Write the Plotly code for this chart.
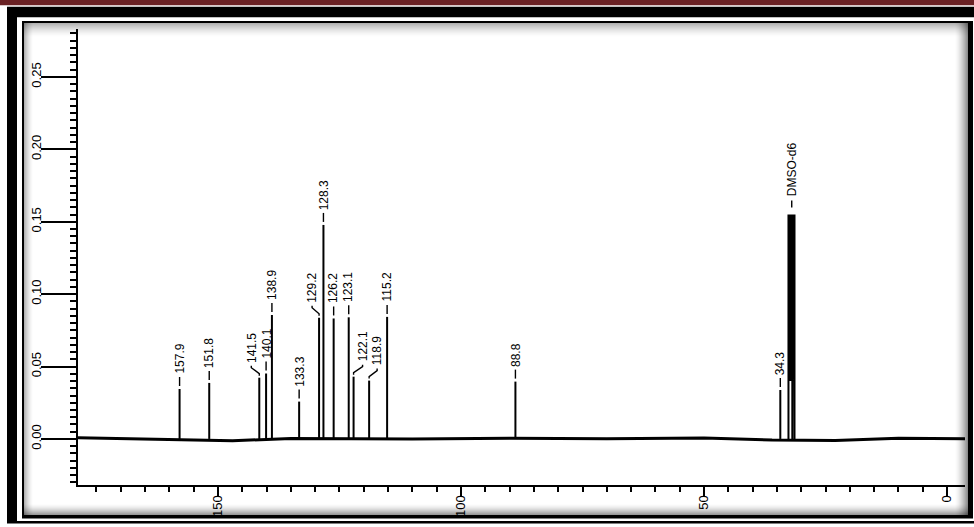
import plotly.graph_objects as go

# ---- 13C NMR peak list -------------------------------------------------
shifts = [157.9, 151.8, 141.5, 140.1, 138.9, 133.3, 129.2, 128.3,
          126.2, 123.1, 122.1, 118.9, 115.2, 88.8, 34.3]
heights = [0.0345, 0.0387, 0.0423, 0.0452, 0.0856, 0.0258, 0.0837, 0.1478,
           0.0832, 0.0840, 0.0430, 0.0403, 0.0843, 0.0396, 0.0338]
peak_labels = ["157.9", "151.8", "141.5", "140.1", "138.9", "133.3", "129.2", "128.3",
               "126.2", "123.1", "122.1", "118.9", "115.2", "88.8", "34.3"]

# solvent multiplet (DMSO-d6), drawn as a continuous trace
dmso_ppm = [32.62, 32.62, 32.50, 32.36, 32.22, 32.08, 31.95, 31.83, 31.83,
            31.70, 31.58, 31.46, 31.38, 31.38]
dmso_int = [0.0, 0.155, 0.040, 0.155, 0.040, 0.155, 0.050, 0.155, 0.0,
            0.155, 0.050, 0.155, 0.155, 0.0]
solvent_label = "DMSO-d6"
solvent_label_ppm = 31.95
solvent_label_int = 0.155

# slow baseline drift
base_ppm = [178.8, 165, 147, 135, 110, 90, 70, 50, 36, 23, 10, -3.7]
base_int = [0.0009, 0.0002, -0.0012, 0.0003, 0.0, 0.0005, 0.0001, 0.0006,
            -0.0008, -0.0010, 0.0004, 0.0001]

x_tick_vals = [150, 100, 50, 0]
x_tick_text = ["150", "100", "50", "0"]
y_tick_vals = [0.00, 0.05, 0.10, 0.15, 0.20, 0.25]
y_tick_text = ["0.00", "0.05", "0.10", "0.15", "0.20", "0.25"]

# ---- geometry / style ---------------------------------------------------
W, H = 974, 527
ML, MR, MT, MB = 78, 9, 29, 42
X_RANGE = [178.8, -3.7]
Y_RANGE = [-0.0318, 0.2831]
PW, PH = W - ML - MR, H - MT - MB
PPM_PER_PX = (X_RANGE[0] - X_RANGE[1]) / PW
UNIT_PER_PX = (Y_RANGE[1] - Y_RANGE[0]) / PH

FONT = "Liberation Sans Narrow, Arial Narrow, Liberation Sans, Arial, sans-serif"
# horizontal label displacement (px) for crowded peaks
LABEL_NUDGE = {"141.5": -8, "129.2": -7, "122.1": 9, "118.9": 8}

fig = go.Figure()

# baseline
fig.add_trace(go.Scatter(x=base_ppm, y=base_int, mode="lines",
                         line=dict(color="black", width=3),
                         hoverinfo="skip", showlegend=False))

# peaks as sticks from the baseline
px_, py_ = [], []
for s, h in zip(shifts, heights):
    px_ += [s, s, None]
    py_ += [0, h, None]
fig.add_trace(go.Scatter(x=px_, y=py_, mode="lines",
                         line=dict(color="black", width=2),
                         hoverinfo="skip", showlegend=False))

# solvent multiplet
fig.add_trace(go.Scatter(x=dmso_ppm, y=dmso_int, mode="lines",
                         line=dict(color="black", width=2),
                         hoverinfo="skip", showlegend=False))

# leader lines between peak tops and their labels
lx, ly = [], []
annotations = []
for s, h, lab in zip(shifts, heights, peak_labels):
    nudge = LABEL_NUDGE.get(lab, 0)
    xl = s - nudge * PPM_PER_PX
    if nudge:
        lx += [s, s, xl, xl, None]
        ly += [h + 2 * UNIT_PER_PX, h + 4 * UNIT_PER_PX,
               h + 10 * UNIT_PER_PX, h + 12 * UNIT_PER_PX, None]
    else:
        lx += [s, s, None]
        ly += [h + 3 * UNIT_PER_PX, h + 12 * UNIT_PER_PX, None]
    annotations.append(dict(x=xl, y=h, xref="x", yref="y", text=lab,
                            textangle=-90, showarrow=False,
                            xanchor="center", yanchor="bottom", yshift=13,
                            font=dict(family=FONT, size=12, color="black")))
lx += [solvent_label_ppm, solvent_label_ppm, None]
ly += [solvent_label_int + 7 * UNIT_PER_PX, solvent_label_int + 14 * UNIT_PER_PX, None]
annotations.append(dict(x=solvent_label_ppm, y=solvent_label_int, xref="x", yref="y",
                        text=solvent_label, textangle=-90, showarrow=False,
                        xanchor="center", yanchor="bottom", yshift=16,
                        font=dict(family=FONT, size=12, color="black")))
fig.add_trace(go.Scatter(x=lx, y=ly, mode="lines",
                         line=dict(color="black", width=1.4),
                         hoverinfo="skip", showlegend=False))


# ---- page frame ---------------------------------------------------------
def xp(v):
    return (v - ML) / PW


def yp(v):
    return 1 - (v - MT) / PH


def rect(x0, y0, x1, y1, color, opacity=1.0):
    return dict(type="rect", xref="paper", yref="paper", layer="below",
                x0=xp(x0), x1=xp(x1), y0=yp(y1), y1=yp(y0),
                fillcolor=color, opacity=opacity, line=dict(width=0))


shapes = [
    rect(0, 0, W + 5, 5.3, "#6a2124"),
    rect(7, 6.7, W + 5, 523.5, "black"),
    rect(17, 17.3, W + 5, 521, "white"),
    rect(22, 21, 973, 518.5, "black"),
    rect(24, 23, 968, 515, "white"),
]
# soft inner shadow along the inner frame
for i in range(14):
    a = 0.30 * (1 - i / 14) ** 1.6
    shapes.append(rect(24, 23 + i, 968, 24 + i, "black", a))
for i in range(9):
    a = 0.30 * (1 - i / 9) ** 1.6
    shapes.append(rect(24 + i, 23, 25 + i, 515, "black", a))
for i in range(13):
    a = 0.45 * (1 - i / 13) ** 1.6
    shapes.append(rect(967 - i, 23, 968 - i, 515, "black", a))
for i in range(11):
    a = 0.40 * (1 - i / 11) ** 1.6
    shapes.append(rect(24, 514 - i, 968, 515 - i, "black", a))

fig.update_layout(
    width=W, height=H,
    margin=dict(l=ML, r=MR, t=MT, b=MB, pad=0, autoexpand=False),
    paper_bgcolor="white", plot_bgcolor="rgba(0,0,0,0)",
    showlegend=False,
    shapes=shapes,
    annotations=annotations,
    xaxis=dict(range=X_RANGE, showgrid=False, zeroline=False, automargin=False,
               showline=True, linecolor="black", linewidth=2,
               ticks="outside", ticklen=10, tickwidth=2, tickcolor="black",
               tickvals=x_tick_vals, ticktext=x_tick_text, tickangle=-90,
               ticklabelstandoff=-7,
               tickfont=dict(family=FONT, size=13, color="black"),
               minor=dict(dtick=5, ticks="outside", ticklen=5, tickwidth=2,
                          tickcolor="black", showgrid=False)),
    yaxis=dict(range=Y_RANGE, showgrid=False, zeroline=False, automargin=False,
               showline=True, linecolor="black", linewidth=2,
               ticks="outside", ticklen=35, tickwidth=1.5, tickcolor="black",
               tickvals=y_tick_vals, ticktext=y_tick_text, tickangle=-90,
               ticklabelstandoff=-5,
               tickfont=dict(family=FONT, size=13, color="black"),
               minor=dict(dtick=0.005, ticks="outside", ticklen=6, tickwidth=2,
                          tickcolor="black", showgrid=False)),
)

fig.write_html("out.html")
